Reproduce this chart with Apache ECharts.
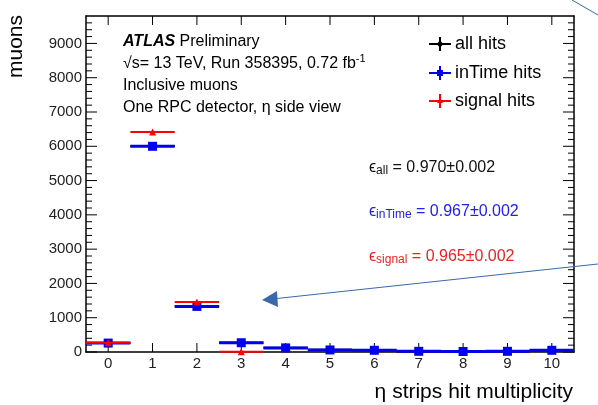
<!DOCTYPE html>
<html>
<head>
<meta charset="utf-8">
<script src="https://cdn.jsdelivr.net/npm/echarts@6/dist/echarts.min.js"></script>
<style>
html,body{margin:0;padding:0;background:#fff;}
#main{width:598px;height:405px;}
</style>
</head>
<body>
<div id="main"></div>
<script>
// ---- data ----
const bins = ['0', '1', '2', '3', '4', '5', '6', '7', '8', '9', '10'];
const allHits = [262, 6010, 1335, 272, 122, 62, 52, 22, 17, 22, 52];
const inTimeHits = [260, 6000, 1330, 270, 120, 60, 50, 20, 15, 20, 50];
const signalHits = [270, 6420, 1460, 5, null, null, null, null, null, null, null];
const yMajorTicks = [0, 1000, 2000, 3000, 4000, 5000, 6000, 7000, 8000, 9000];
const yMinorTicks = [200, 400, 600, 800, 1200, 1400, 1600, 1800, 2200, 2400, 2600, 2800, 3200, 3400, 3600, 3800, 4200, 4400, 4600, 4800, 5200, 5400, 5600, 5800, 6200, 6400, 6600, 6800, 7200, 7400, 7600, 7800, 8200, 8400, 8600, 8800, 9200, 9400, 9600];
const effLabels = ['0.970±0.002', '0.967±0.002', '0.965±0.002'];

const FONT = 'Liberation Sans, Arial, Helvetica, sans-serif';
const BLUE = '#0000ee';
const RED = '#ff0000';
const BLACK = '#000000';

function pairs(vals) {
  const out = [];
  bins.forEach((b, i) => { if (vals[i] != null) out.push([i, vals[i]]); });
  return out;
}
function hbarSeries(name, vals, color, width, z) {
  return {
    name: name, type: 'custom', z: z, xAxisIndex: 0, yAxisIndex: 0,
    data: pairs(vals),
    renderItem: function (params, api) {
      const p = api.coord([api.value(0), api.value(1)]);
      const w = api.size([1, 0])[0];
      return { type: 'line', shape: { x1: p[0] - w / 2, y1: p[1], x2: p[0] + w / 2, y2: p[1] },
               style: { stroke: color, lineWidth: width } };
    }
  };
}
function markerSeries(name, vals, color, symbol, size, z) {
  return { name: name, type: 'scatter', z: z, xAxisIndex: 0, yAxisIndex: 0,
    data: pairs(vals), symbol: symbol, symbolSize: size,
    itemStyle: { color: color, opacity: 1 }, silent: true };
}
// frame ticks placed through the axes' scales (left/right and bottom/top)
function yTickSeries() {
  const data = yMajorTicks.map(v => [0, v, 11]).concat(yMinorTicks.map(v => [0, v, 6]));
  return {
    type: 'custom', z: 1, silent: true, xAxisIndex: 0, yAxisIndex: 0, data: data,
    renderItem: function (params, api) {
      const cs = params.coordSys;
      const y = api.coord([0, api.value(1)])[1];
      const len = api.value(2);
      return { type: 'group', children: [
        { type: 'line', shape: { x1: cs.x, y1: y, x2: cs.x + len, y2: y }, style: { stroke: '#000', lineWidth: 1 } },
        { type: 'line', shape: { x1: cs.x + cs.width - len, y1: y, x2: cs.x + cs.width, y2: y }, style: { stroke: '#000', lineWidth: 1 } }
      ] };
    }
  };
}
function xTickSeries() {
  return {
    type: 'custom', z: 1, silent: true, xAxisIndex: 0, yAxisIndex: 0,
    data: bins.map((b, i) => [i, 0]),
    renderItem: function (params, api) {
      const cs = params.coordSys;
      const x = api.coord([api.value(0), 0])[0];
      return { type: 'group', children: [
        { type: 'line', shape: { x1: x, y1: cs.y + cs.height, x2: x, y2: cs.y + cs.height - 9 }, style: { stroke: '#000', lineWidth: 1 } },
        { type: 'line', shape: { x1: x, y1: cs.y, x2: x, y2: cs.y + 9 }, style: { stroke: '#000', lineWidth: 1 } }
      ] };
    }
  };
}

function axLine() { return { show: true, onZero: false, lineStyle: { color: '#000', width: 1.5 } }; }
const plainFmt = function (v) { return String(v); };

const chart = echarts.init(document.getElementById('main'));

function legendItem(y, color, marker, label) {
  return [
    { type: 'line', shape: { x1: 429, y1: y, x2: 451, y2: y }, style: { stroke: color, lineWidth: 2 } },
    { type: 'line', shape: { x1: 440, y1: y - 7, x2: 440, y2: y + 7 }, style: { stroke: color, lineWidth: 2 } },
    marker,
    { type: 'text', x: 455, y: y, style: { text: label, font: '18px ' + FONT, fill: '#000', verticalAlign: 'middle' } }
  ];
}

const graphics = [].concat(
  [
    { type: 'text', x: 123, y: 42, style: { text: '{b|ATLAS} Preliminary', font: '16px ' + FONT, fill: '#000', verticalAlign: 'middle',
        rich: { b: { fontStyle: 'italic', fontWeight: 'bold', fontSize: 16, fontFamily: FONT } } } },
    { type: 'text', x: 123, y: 64, style: { text: '√s= 13 TeV, Run 358395, 0.72 fb{s|-1}', font: '16px ' + FONT, fill: '#000', verticalAlign: 'middle',
        rich: { s: { fontSize: 11, fontFamily: FONT, verticalAlign: 'top', lineHeight: 22 } } } },
    { type: 'text', x: 123, y: 86, style: { text: 'Inclusive muons', font: '16px ' + FONT, fill: '#000', verticalAlign: 'middle' } },
    { type: 'text', x: 123, y: 108, style: { text: 'One RPC detector, η side view', font: '16px ' + FONT, fill: '#000', verticalAlign: 'middle' } },

    { type: 'text', x: 369, y: 168, style: { text: 'ϵ{s|all} = ' + effLabels[0], font: '16px ' + FONT, fill: '#111', verticalAlign: 'middle',
        rich: { s: { fontSize: 12, fontFamily: FONT, verticalAlign: 'bottom', padding: [6, 0, 0, 0] } } } },
    { type: 'text', x: 369, y: 212, style: { text: 'ϵ{s|inTime} = ' + effLabels[1], font: '16px ' + FONT, fill: '#2020f0', verticalAlign: 'middle',
        rich: { s: { fontSize: 12, fontFamily: FONT, verticalAlign: 'bottom', padding: [6, 0, 0, 0] } } } },
    { type: 'text', x: 369, y: 257, style: { text: 'ϵ{s|signal} = ' + effLabels[2], font: '16px ' + FONT, fill: '#ee2222', verticalAlign: 'middle',
        rich: { s: { fontSize: 12, fontFamily: FONT, verticalAlign: 'bottom', padding: [6, 0, 0, 0] } } } },

    { type: 'text', x: 16, y: 15, rotation: Math.PI / 2, style: { text: 'muons', font: '21px ' + FONT, fill: '#000', align: 'right', verticalAlign: 'middle' } },
    { type: 'text', x: 573, y: 392, style: { text: 'η strips hit multiplicity', font: '21px ' + FONT, fill: '#000', align: 'right', verticalAlign: 'middle' } },

    // annotation arrow
    { type: 'line', shape: { x1: 598, y1: 264, x2: 272, y2: 299 }, style: { stroke: '#3a68aa', lineWidth: 1 }, z: 50 },
    { type: 'polygon', shape: { points: [[262, 300], [277, 291], [278, 307]] }, style: { fill: '#3a68aa' }, z: 50 },
    { type: 'line', shape: { x1: 572, y1: 0, x2: 598, y2: 15 }, style: { stroke: '#3a68aa', lineWidth: 1 }, z: 50 }
  ],
  legendItem(44, BLACK, { type: 'circle', shape: { cx: 440, cy: 44, r: 2.5 }, style: { fill: BLACK } }, 'all hits'),
  legendItem(73, BLUE, { type: 'rect', shape: { x: 437, y: 70, width: 6, height: 6 }, style: { fill: BLUE } }, 'inTime hits'),
  legendItem(101, RED, { type: 'polygon', shape: { points: [[440, 98], [443, 103], [437, 103]] }, style: { fill: RED } }, 'signal hits')
);

chart.setOption({
  animation: false,
  grid: { left: 86, right: 24, top: 16, bottom: 53 },
  xAxis: [
    { type: 'category', data: bins, boundaryGap: true, position: 'bottom', axisLine: axLine(), splitLine: { show: false },
      axisTick: { show: false },
      axisLabel: { show: true, interval: 0, fontSize: 15, color: '#222', margin: 4, fontFamily: FONT } },
    { type: 'category', data: bins, boundaryGap: true, position: 'top', axisLine: axLine(), splitLine: { show: false },
      axisTick: { show: false }, axisLabel: { show: false } }
  ],
  yAxis: [
    { type: 'value', min: 0, max: 9800, position: 'left', splitLine: { show: false }, axisLine: axLine(),
      axisTick: { show: false },
      axisLabel: { show: true, customValues: yMajorTicks, fontSize: 15, color: '#222', margin: 4, fontFamily: FONT, formatter: plainFmt } },
    { type: 'value', min: 0, max: 9800, position: 'right', splitLine: { show: false }, axisLine: axLine(),
      axisTick: { show: false }, axisLabel: { show: false } }
  ],
  series: [
    yTickSeries(),
    xTickSeries(),
    hbarSeries('all hits', allHits, BLACK, 2, 2),
    markerSeries('all hits marker', allHits, BLACK, 'circle', 6, 3),
    hbarSeries('inTime hits', inTimeHits, BLUE, 3, 4),
    markerSeries('inTime hits marker', inTimeHits, BLUE, 'rect', 9, 5),
    hbarSeries('signal hits', signalHits, RED, 2, 6),
    markerSeries('signal hits marker', signalHits, RED, 'triangle', 7, 7)
  ],
  graphic: { elements: graphics }
});
</script>
</body>
</html>
